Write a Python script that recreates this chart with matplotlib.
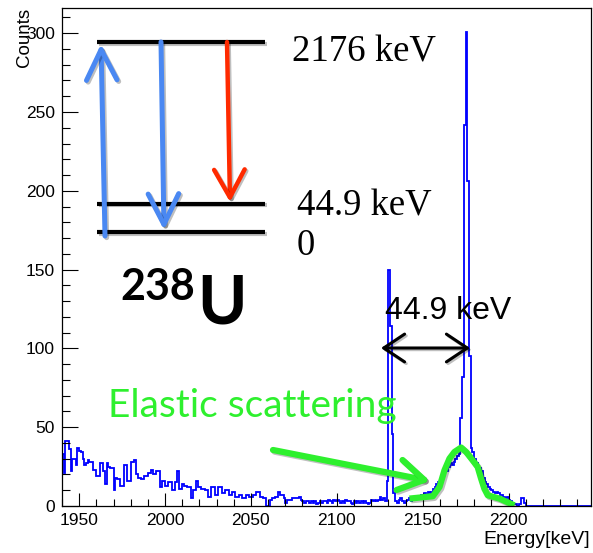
import numpy as np
import matplotlib
matplotlib.use('Agg')
import matplotlib.pyplot as plt
import matplotlib.patheffects as pe

# histogram: counts per 1 keV bin, starting at 1940 keV
energy_start = 1940
bin_width = 1
counts = [
    33, 21, 41, 41, 36, 22, 30, 30, 26, 37,    # 1940
    35, 34, 30, 26, 27, 29, 28, 28, 23, 23,    # 1950
    19, 19, 27, 27, 22, 14, 27, 25, 24, 24,    # 1960
    10, 18, 17, 17, 13, 13, 26, 26, 16, 16,    # 1970
    28, 28, 29, 20, 18, 18, 17, 17, 19, 19,    # 1980
    21, 21, 23, 20, 20, 22, 22, 12, 16, 16,    # 1990
    13, 13, 15, 15, 10, 10, 15, 22, 11, 11,    # 2000
    14, 13, 13, 12, 12, 5, 10, 10, 16, 12,     # 2010
    12, 11, 11, 10, 10, 6, 6, 12, 12, 7,       # 2020
    7, 12, 12, 8, 8, 10, 10, 7, 7, 9,          # 2030
    9, 6, 6, 7, 7, 5, 5, 7, 7, 6,              # 2040
    6, 7, 7, 9, 9, 6, 6, 5, 5, 0,              # 2050
    0, 4, 5, 5, 6, 6, 9, 7, 7, 5,              # 2060
    2, 4, 4, 4, 5, 5, 5, 5, 6, 4,              # 2070
    3, 2, 3, 3, 2, 3, 2, 3, 1, 2,              # 2080
    3, 2, 3, 3, 2, 4, 3, 2, 4, 3,              # 2090
    4, 3, 2, 3, 2, 4, 3, 3, 2, 1,              # 2100
    3, 2, 3, 2, 3, 2, 3, 2, 1, 2,              # 2110
    4, 3, 4, 3, 4, 6, 4, 5, 3, 16,             # 2120
    150, 114, 46, 8, 3, 2, 4, 5, 3, 2,         # 2130
    3, 4, 5, 3, 4, 5, 6, 5, 6, 7,              # 2140
    6, 8, 7, 9, 8, 9, 11, 12, 14, 15,          # 2150
    17, 19, 21, 23, 22, 25, 27, 26, 28, 30,    # 2160
    32, 33, 56, 82, 242, 301, 206, 95, 37, 34, # 2170
    30, 27, 25, 24, 22, 18, 15, 14, 12, 11,    # 2180
    10, 9, 8, 9, 8, 7, 7, 6, 5, 6,             # 2190
    4, 3, 2, 1, 1, 0, 1, 5, 5, 2,              # 2200
    0, 0, 0, 0, 0, 0, 0, 0, 0, 0,              # 2210
    0, 0, 0, 0, 0, 0, 0, 0, 0, 0,              # 2220
    0, 0, 0, 0, 0, 0, 0, 0, 0, 0,              # 2230
    0, 0, 0, 0, 0, 0, 0, 0,                    # 2240
]

# hand drawn elastic scattering bump (green)
elastic_energy = [2142.3, 2155.9, 2159.8, 2162.7, 2165.6, 2168.5, 2172.4, 2175.3,
                  2179.1, 2182.0, 2184.0, 2185.9, 2187.9, 2194.7, 2203.4]
elastic_counts = [4.7, 6.2, 12.1, 22.7, 30.1, 34.3, 37.1, 34.3,
                  29.0, 24.8, 17.4, 11.0, 6.8, 4.7, 0.4]

x_ticks = [1950, 2000, 2050, 2100, 2150, 2200]
y_ticks = [0, 50, 100, 150, 200, 250, 300]

W, H = 593, 553
def P(x, y):
    # pixel position -> figure fraction
    return (x / W, 1 - y / H)

BLUE = '#4a88f2'
RED = '#ff2a00'
GREEN = '#2ef02e'
shadow = [pe.SimpleLineShadow(offset=(1.2, -1.2), alpha=0.25), pe.Normal()]

plt.rcParams['font.family'] = ['Liberation Sans', 'DejaVu Sans']

fig = plt.figure(figsize=(W / 100, H / 100), dpi=100)
ax = fig.add_axes([62 / W, 47 / H, 529 / W, 498 / H])

edges = energy_start + bin_width * np.arange(len(counts) + 1)
ax.stairs(counts, edges, color='#0000ff', lw=1.3, baseline=None)

ax.set_xlim(1940, 2248)
ax.set_ylim(0, 316)
ax.set_xticks(x_ticks)
ax.set_yticks(y_ticks)
ax.set_xticks(np.arange(1940, 2249, 10), minor=True)
ax.set_yticks(np.arange(0, 316, 10), minor=True)
ax.tick_params(which='both', direction='in', top=False, right=False,
               labelsize=12.5, width=0.8)
ax.tick_params(axis='y', which='major', length=11.5, pad=5)
ax.tick_params(axis='y', which='minor', length=5.8)
ax.tick_params(axis='x', which='major', length=9.5, pad=5)
ax.tick_params(axis='x', which='minor', length=5)
for s in ax.spines.values():
    s.set_linewidth(0.9)

fig.text(*P(25, 8), 'Counts', rotation=90, ha='center', va='top', fontsize=13.5)
fig.text(*P(590, 539), 'Energy[keV]', ha='right', va='center', fontsize=14)

# level scheme
for y in [42, 203.5, 232]:
    (x0, yy), (x1, _) = P(97, y), P(265, y)
    ax.plot([x0, x1], [yy, yy], transform=fig.transFigure, color='black',
            lw=3, clip_on=False, path_effects=shadow, solid_capstyle='butt')

def arrow(tail, tip, color, lw, style='->', hl=0.8, hw=0.4):
    ax.annotate('', xy=P(*tip), xytext=P(*tail),
                xycoords='figure fraction', textcoords='figure fraction',
                arrowprops=dict(arrowstyle=f'{style},head_length={hl},head_width={hw}',
                                color=color, lw=lw, shrinkA=0, shrinkB=0,
                                mutation_scale=20, path_effects=shadow))

arrow((105, 236), (101, 44), BLUE, 3.6, hl=1.1, hw=0.55)
arrow((161, 42), (164, 230), BLUE, 3.6, hl=1.1, hw=0.55)
arrow((227, 42), (230, 202), RED, 3.2, hl=1.0, hw=0.55)

fig.text(*P(292, 61.7), '2176 keV', family='Liberation Serif', fontsize=26.5,
         va='baseline', ha='left')
fig.text(*P(297, 215), '44.9 keV', family='Liberation Serif', fontsize=26.5,
         va='baseline', ha='left')
fig.text(*P(297, 255), '0', family='Liberation Serif', fontsize=26.5,
         va='baseline', ha='left')
fig.text(*P(120, 300), '238', family='Lato', weight='bold', fontsize=31,
         va='baseline', ha='left')
fig.text(*P(197, 323), 'U', family='Lato', weight='bold', fontsize=48,
         va='baseline', ha='left')

# 44.9 keV gap between the peaks
arrow((381, 348), (470, 348), 'black', 2.2, style='<->', hl=0.75, hw=0.5)
fig.text(*P(385, 319.3), '44.9 keV', fontsize=23, va='baseline', ha='left')

# elastic scattering
fig.text(*P(108, 416.7), 'Elastic scattering', family='Lato', color=GREEN,
         fontsize=28, va='baseline', ha='left')
arrow((273, 450), (430, 481), GREEN, 4.5, hl=0.9, hw=0.55)
ax.plot(elastic_energy, elastic_counts, color=GREEN, lw=4.5,
        solid_capstyle='butt', solid_joinstyle='round', path_effects=shadow)

fig.savefig('out.png', dpi=100)
